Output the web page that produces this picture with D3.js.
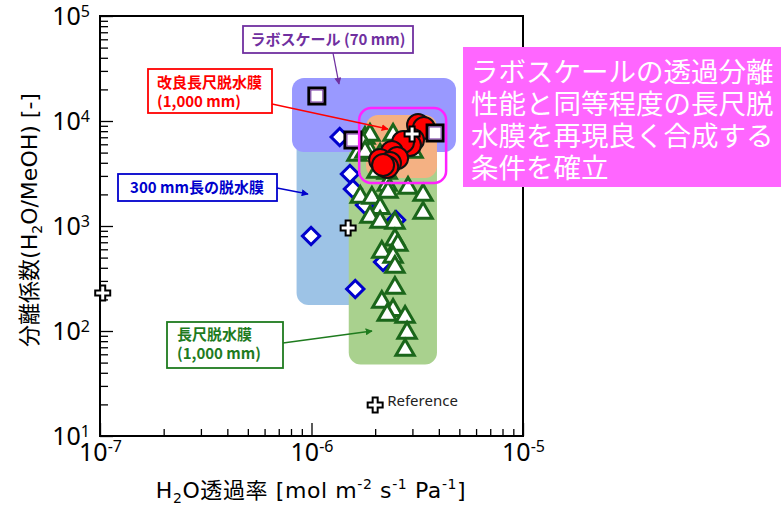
<!DOCTYPE html>
<html><head><meta charset="utf-8">
<script src="https://cdn.jsdelivr.net/npm/d3@7"></script>
<style>
body{margin:0;background:#fff}
svg{display:block;font-family:"Noto Sans CJK JP","Noto Sans",sans-serif}
</style>
</head><body><svg id="c" width="781" height="507"></svg>
<script>
// ---- data ----
const xTicks = [1e-7, 1e-6, 1e-5];
const xTickExp = ["-7", "-6", "-5"];
const yTicks = [10, 100, 1000, 10000, 100000];
const yTickExp = ["1", "2", "3", "4", "5"];
const minorMult = [2, 3, 4, 5, 6, 7, 8, 9];

// ラボスケール (70 mm) — squares
const labPerm = [1.06e-6, 1.57e-6, 3.84e-6];
const labSep  = [17300, 6590, 7690];
// 300 mm長の脱水膜 — diamonds
const p300Perm = [1.36e-6, 1.52e-6, 1.57e-6, 9.95e-7, 1.61e-6, 2.51e-6, 2.18e-6, 1.79e-6];
const p300Sep  = [7040, 3130, 2250, 803, 251, 1140, 454, 1585];
// 長尺脱水膜 (1,000 mm) — triangles
const longPerm = [1.79e-6,1.89e-6,2.43e-6,1.75e-6,1.64e-6,1.89e-6,2.11e-6,3.02e-6,1.79e-6,2.04e-6,2.28e-6,2.28e-6,2.86e-6,1.70e-6,1.93e-6,2.30e-6,3.37e-6,2.11e-6,3.37e-6,1.89e-6,2.11e-6,2.48e-6,2.48e-6,2.56e-6,2.15e-6,2.43e-6,2.48e-6,2.48e-6,2.15e-6,2.43e-6,2.28e-6,2.77e-6,2.83e-6,2.77e-6];
const longSep  = [6890,7360,7360,6170,4750,5070,4750,5070,5070,3270,3200,2460,2300,1890,1850,2110,1970,1480,1330,1220,1090,1070,740,660,565,507,407,257,189,158,142,136,96,66];
// 改良長尺脱水膜 (1,000 mm) — red circles
const impPerm = [3.19e-6,3.40e-6,3.02e-6,2.92e-6,2.71e-6,2.40e-6,2.54e-6,2.11e-6,2.35e-6,2.28e-6,2.18e-6];
const impSep  = [9160,8580,6590,5910,6310,5070,4440,4250,3980,3650,3810];
// Reference — crosses
const refPerm = [1.03e-7, 1.49e-6, 2.0e-6, 2.99e-6];
const refSep  = [230, 957, 19.7, 7520];

// shaded ranges (data coordinates)
const regionNames = ["p300", "long", "lab", "imp"];
const regionX0 = [8.5e-7, 1.5e-6, 8.09e-7, 1.81e-6];
const regionX1 = [2.0e-6, 3.92e-6, 4.82e-6, 3.92e-6];
const regionY0 = [177, 48, 5070, 2870];
const regionY1 = [8000, 6000, 25700, 11400];
const highlightX = [1.68e-6, 4.33e-6];
const highlightY = [2570, 13300];

// ---- styles ----
const regionFill = {p300:"#9dc3e6", long:"#a9d18e", lab:"#9999ff", imp:"#f4b183"};
const latin = "'DejaVu Sans','Noto Sans CJK JP',sans-serif";

const svg = d3.select("#c");
const x = d3.scaleLog().domain([1e-7, 1e-5]).range([100, 523]);
const y = d3.scaleLog().domain([10, 1e5]).range([436, 16]);

// regions
const gR = svg.append("g");
regionNames.forEach((n, i) => {
  const x0 = x(regionX0[i]), x1 = x(regionX1[i]);
  const yTop = y(regionY1[i]), yBot = y(regionY0[i]);
  gR.append("rect").attr("x", x0).attr("y", yTop).attr("width", x1 - x0).attr("height", yBot - yTop)
    .attr("rx", 12).attr("fill", regionFill[n]);
});

// axes
const xMinor = [], yMinor = [];
[1e-7, 1e-6].forEach(d => minorMult.forEach(m => xMinor.push(d * m)));
[10, 100, 1000, 10000].forEach(d => minorMult.forEach(m => yMinor.push(d * m)));

function styleAxis(g){ g.select(".domain").remove(); g.selectAll("line").attr("stroke","#000").attr("stroke-width",1.3); }

svg.append("g").attr("transform","translate(0,436)")
  .call(d3.axisBottom(x).tickValues(xMinor).tickSize(-7).tickFormat(() => "")).call(styleAxis);
const gxM = svg.append("g").attr("transform","translate(0,436)")
  .call(d3.axisBottom(x).tickValues(xTicks).tickSize(-13).tickPadding(7).tickFormat(() => "")).call(styleAxis);
gxM.selectAll(".tick text").each(function(d, i){
  const t = d3.select(this).attr("font-size", 25).attr("fill","#000")
    .attr("font-family","'Noto Sans','Noto Sans CJK JP',sans-serif").attr("dy","0.71em");
  t.append("tspan").text("10");
  t.append("tspan").attr("font-size", 16).attr("dy", -9).text(xTickExp[i]);
});

svg.append("g").attr("transform","translate(100,0)")
  .call(d3.axisLeft(y).tickValues(yMinor).tickSize(-8).tickFormat(() => "")).call(styleAxis);
const gyM = svg.append("g").attr("transform","translate(100,0)")
  .call(d3.axisLeft(y).tickValues(yTicks).tickSize(-13).tickPadding(10).tickFormat(() => "")).call(styleAxis);
gyM.selectAll(".tick text").each(function(d, i){
  const t = d3.select(this).attr("font-size", 25).attr("fill","#000")
    .attr("font-family","'Noto Sans','Noto Sans CJK JP',sans-serif");
  t.append("tspan").text("10");
  t.append("tspan").attr("font-size", 16).attr("dy", -8).text(yTickExp[i]);
});

// frame
svg.append("rect").attr("x",100).attr("y",16).attr("width",423).attr("height",420)
  .attr("fill","none").attr("stroke","#000").attr("stroke-width",2);

// markers
const gM = svg.append("g");
gM.selectAll(".dia").data(p300Perm.map((p,i)=>[p,p300Sep[i]])).join("path")
  .attr("transform", d => `translate(${x(d[0])},${y(d[1])}) rotate(45)`)
  .attr("d", d3.symbol(d3.symbolSquare, 150)())
  .attr("fill","#fff").attr("stroke","#0000cc").attr("stroke-width",3);
gM.selectAll(".tri").data(longPerm.map((p,i)=>[p,longSep[i]])).join("path")
  .attr("transform", d => `translate(${x(d[0])},${y(d[1])})`)
  .attr("d", d3.symbol(d3.symbolTriangle, 145)())
  .attr("fill","#fff").attr("stroke","#1a661a").attr("stroke-width",3).attr("stroke-linejoin","miter");
gM.selectAll(".cir").data(impPerm.map((p,i)=>[p,impSep[i]])).join("circle")
  .attr("cx", d => x(d[0])).attr("cy", d => y(d[1])).attr("r", 11)
  .attr("fill","#ff0000").attr("stroke","#111").attr("stroke-width",2);
const sq = gM.selectAll(".sq").data(labPerm.map((p,i)=>[p,labSep[i]])).join("g")
  .attr("transform", d => `translate(${x(d[0])},${y(d[1])})`);
sq.append("rect").attr("x",-8).attr("y",-8).attr("width",16).attr("height",16)
  .attr("fill","#fff").attr("stroke","#000").attr("stroke-width",3);
sq.append("rect").attr("x",-6).attr("y",-6).attr("width",12).attr("height",12)
  .attr("fill","#fff").attr("stroke","#7030a0").attr("stroke-width",1);
gM.selectAll(".ref").data(refPerm.map((p,i)=>[p,refSep[i]])).join("path")
  .attr("transform", d => `translate(${x(d[0])},${y(d[1])})`)
  .attr("d", d3.symbol(d3.symbolCross, 125)())
  .attr("fill","#fff").attr("stroke","#000").attr("stroke-width",2);

// highlight outline
svg.append("rect").attr("x", x(highlightX[0])).attr("y", y(highlightY[1]))
  .attr("width", x(highlightX[1]) - x(highlightX[0])).attr("height", y(highlightY[0]) - y(highlightY[1]))
  .attr("rx", 12).attr("fill","none").attr("stroke","#ff22ff").attr("stroke-width",2.5);

// Reference label
svg.append("text").attr("x", x(refPerm[2]) + 12).attr("y", y(refSep[2]) + 1)
  .attr("font-family","'Noto Sans',sans-serif").attr("font-size",15).attr("fill","#222").text("Reference");

// arrow markers
const defs = svg.append("defs");
function marker(id, col){
  defs.append("marker").attr("id",id).attr("viewBox","0 0 10 10").attr("refX",9).attr("refY",5)
    .attr("markerWidth",7).attr("markerHeight",7).attr("markerUnits","userSpaceOnUse").attr("orient","auto")
    .append("path").attr("d","M0,0L10,5L0,10Z").attr("fill",col);
}
marker("mP","#7030a0"); marker("mR","#ff0000"); marker("mB","#0000cc"); marker("mG","#1e7b1e");

function box(x0,y0,w,h,col,lines,lx,ly,lh,anchor){
  svg.append("rect").attr("x",x0).attr("y",y0).attr("width",w).attr("height",h)
    .attr("fill","#fff").attr("stroke",col).attr("stroke-width",1.8);
  const t = svg.append("text").attr("fill",col).attr("font-weight","bold").attr("font-size",15)
    .attr("text-anchor",anchor||"start");
  lines.forEach((s,i)=> t.append("tspan").attr("x",lx).attr("y",ly + i*lh).text(s));
}
function arrow(x1,y1,x2,y2,col,m){
  svg.append("line").attr("x1",x1).attr("y1",y1).attr("x2",x2).attr("y2",y2)
    .attr("stroke",col).attr("stroke-width",1.3).attr("marker-end",`url(#${m})`);
}
box(243,26,170,27,"#7030a0",["ラボスケール (70 mm)"],328,45,0,"middle");
arrow(333,53,339,84,"#7030a0","mP");
box(148,69,124,44,"#ff0000",["改良長尺脱水膜","(1,000 mm)"],157,88,19);
arrow(272,104,388,129,"#ff0000","mR");
box(118,174,159,27,"#0000cc",["300 mm長の脱水膜"],197,193,0,"middle");
arrow(277,188,308,194,"#0000cc","mB");
box(167,322,116,46,"#1e7b1e",["長尺脱水膜","(1,000 mm)"],177,340,19);
arrow(283,343,372,331,"#1e7b1e","mG");

// axis titles
const xt = svg.append("text").attr("x",311).attr("y",498).attr("text-anchor","middle")
  .attr("font-family",latin).attr("font-size",22).attr("letter-spacing",0.6).attr("fill","#000");
xt.append("tspan").text("H");
xt.append("tspan").attr("font-size",14).attr("dy",5).text("2");
xt.append("tspan").attr("dy",-5).text("O透過率 [mol m");
xt.append("tspan").attr("font-size",14).attr("dy",-9).text("-2");
xt.append("tspan").attr("dy",9).text(" s");
xt.append("tspan").attr("font-size",14).attr("dy",-9).text("-1");
xt.append("tspan").attr("dy",9).text(" Pa");
xt.append("tspan").attr("font-size",14).attr("dy",-9).text("-1");
xt.append("tspan").attr("dy",9).text("]");

const yt = svg.append("text").attr("transform","translate(37,220) rotate(-90)").attr("text-anchor","middle")
  .attr("font-family",latin).attr("font-size",22).attr("fill","#000");
yt.append("tspan").text("分離係数(H");
yt.append("tspan").attr("font-size",14).attr("dy",5).text("2");
yt.append("tspan").attr("dy",-5).text("O/MeOH) [-]");

// pink conclusion box
svg.append("rect").attr("x",463).attr("y",47).attr("width",318).attr("height",140).attr("fill","#ff66ff");
const pt = svg.append("text").attr("fill","#fff").attr("font-size",27.5);
["ラボスケールの透過分離","性能と同等程度の長尺脱","水膜を再現良く合成する","条件を確立"].forEach((s,i)=>
  pt.append("tspan").attr("x",471).attr("y",82 + i*32).text(s));
</script>
</body></html>
